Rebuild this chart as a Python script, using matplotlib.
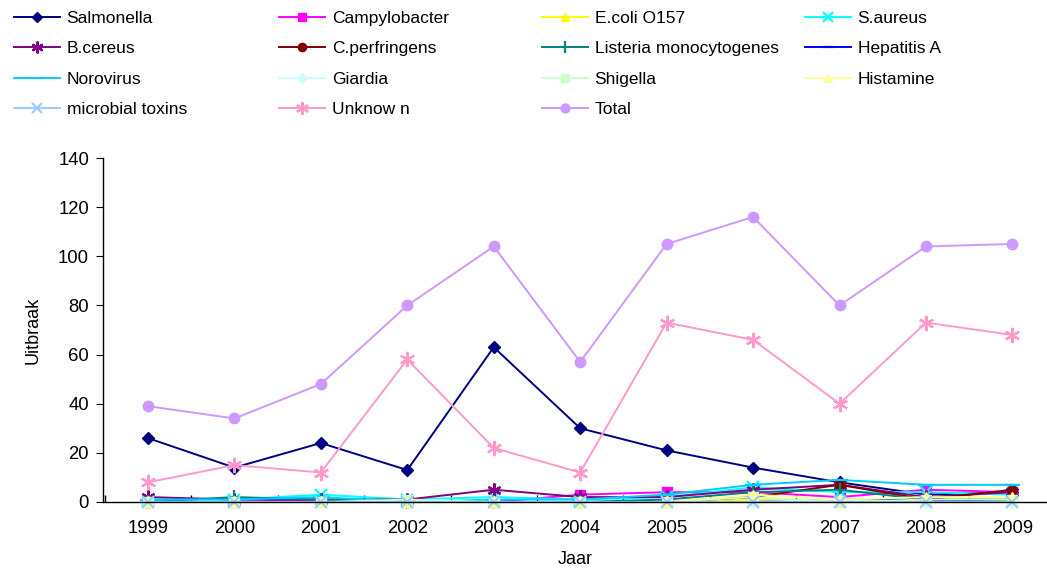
import matplotlib
matplotlib.use("Agg")
import matplotlib.pyplot as plt
import numpy as np

plt.rcParams['font.family'] = ['Liberation Sans', 'DejaVu Sans']

years = ["1999", "2000", "2001", "2002", "2003", "2004", "2005", "2006", "2007", "2008", "2009"]

salmonella     = [26, 14, 24, 13, 63, 30, 21, 14, 8, 3, 4]
campylobacter  = [0, 0, 1, 0, 0, 3, 4, 4, 2, 5, 4]
ecoli_o157     = [0, 0, 0, 0, 0, 0, 0, 1, 0, 1, 1]
s_aureus       = [1, 1, 3, 1, 2, 1, 2, 6, 4, 4, 3]
b_cereus       = [2, 1, 1, 1, 5, 2, 2, 5, 7, 2, 4]
c_perfringens  = [0, 0, 0, 0, 0, 0, 0, 2, 7, 1, 5]
listeria       = [0, 2, 1, 0, 0, 0, 1, 4, 5, 1, 1]
hepatitis_a    = [0, 0, 0, 0, 0, 0, 0, 0, 1, 1, 0]
norovirus      = [1, 1, 2, 0, 1, 1, 3, 7, 9, 7, 7]
giardia        = [0, 0, 0, 0, 0, 0, 0, 0, 1, 0, 0]
shigella       = [0, 0, 0, 1, 0, 0, 0, 2, 0, 1, 1]
histamine      = [0, 0, 0, 0, 0, 0, 0, 3, 1, 2, 2]
microbial_tox  = [0, 0, 0, 0, 0, 0, 0, 0, 0, 0, 0]
unknown        = [8, 15, 12, 58, 22, 12, 73, 66, 40, 73, 68]
total          = [39, 34, 48, 80, 104, 57, 105, 116, 80, 104, 105]

asterisk = (6, 2, 0)
series = [
    ("Salmonella", salmonella, "#000080", "D", 6.5),
    ("Campylobacter", campylobacter, "#FF00FF", "s", 6.5),
    ("E.coli O157", ecoli_o157, "#FFFF00", "^", 7.5),
    ("S.aureus", s_aureus, "#00FFFF", "x", 8),
    ("B.cereus", b_cereus, "#800080", asterisk, 10),
    ("C.perfringens", c_perfringens, "#800000", "o", 7),
    ("Listeria monocytogenes", listeria, "#008080", "|", 10),
    ("Hepatitis A", hepatitis_a, "#0000FF", "_", 9),
    ("Norovirus", norovirus, "#00CCFF", "_", 11),
    ("Giardia", giardia, "#CCFFFF", "D", 6.5),
    ("Shigella", shigella, "#CCFFCC", "s", 6.5),
    ("Histamine", histamine, "#FFFF99", "^", 7.5),
    ("microbial toxins", microbial_tox, "#99CCFF", "x", 9),
    ("Unknow n", unknown, "#FF99CC", asterisk, 11),
    ("Total", total, "#CC99FF", "o", 7.5),
]

fig = plt.figure(figsize=(10.47, 5.71), dpi=100)
ax = fig.add_axes([103/1047, 69/571, 1 - 103/1047, (502-158)/571])

x = np.arange(len(years))
handles = []
for name, vals, col, mk, ms in series:
    mew = 1.6 if mk in ("x", "|", "_", asterisk) else 1.0
    h, = ax.plot(x, vals, color=col, marker=mk, markersize=ms, linewidth=1.4,
                 markeredgewidth=mew, markerfacecolor=col, markeredgecolor=col,
                 label=name, clip_on=False)
    handles.append(h)

ax.set_xlim(-0.52, 10.4)
ax.set_ylim(0, 140)
ax.set_yticks(np.arange(0, 141, 20))
ax.set_xticks(x)
ax.set_xticklabels(years)
ax.set_xticks(np.arange(-0.5, 10.5, 1.0), minor=True)
ax.tick_params(axis='x', which='major', length=0, pad=13, labelsize=13.3)
ax.tick_params(axis='x', which='minor', length=5, direction='in', width=1)
ax.tick_params(axis='y', length=5, direction='out', labelsize=13.3, pad=5)
for s in ("top", "right"):
    ax.spines[s].set_visible(False)
ax.spines['left'].set_linewidth(1)
ax.spines['bottom'].set_linewidth(1)
ax.set_ylabel("Uitbraak", fontsize=13, labelpad=12)
ax.set_xlabel("Jaar", fontsize=13, labelpad=10)

# legend: 4 columns, row-major order
cols_x = [5/1047, 270/1047, 533/1047, 796/1047]
for c in range(4):
    hs = handles[c::4]
    leg = fig.legend(handles=hs, labels=[h.get_label() for h in hs],
                     loc="upper left", bbox_to_anchor=(cols_x[c], 1.0 - 2/571),
                     frameon=False, fontsize=12.5, handlelength=2.65,
                     handletextpad=0.4, labelspacing=0.88, borderaxespad=0.3,
                     borderpad=0.2, markerscale=0.85)

fig.savefig("out.png", dpi=100)
